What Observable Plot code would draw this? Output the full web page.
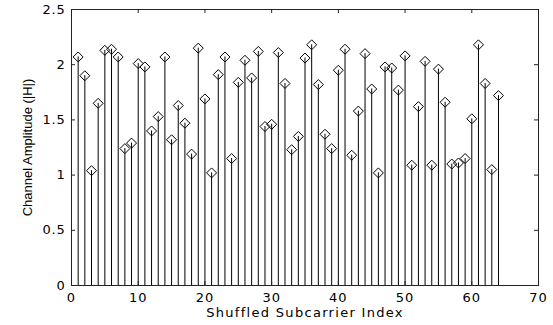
<!DOCTYPE html>
<html>
<head>
<meta charset="utf-8">
<script src="https://cdn.jsdelivr.net/npm/d3@7"></script>
<script src="https://cdn.jsdelivr.net/npm/@observablehq/plot@0.6"></script>
<style>
  html, body { margin: 0; padding: 0; background: white; }
  g[aria-label="x-axis tick label"] text { letter-spacing: 1px; }
  g[aria-label="y-axis tick label"] text { letter-spacing: 0.8px; }
</style>
</head>
<body>
<div id="chart"></div>
<script>
const subcarrierIndex = d3.range(1, 65);
const amplitude = [
  2.07, 1.90, 1.04, 1.65, 2.13, 2.14, 2.07, 1.24, 1.29, 2.01,
  1.98, 1.40, 1.53, 2.07, 1.32, 1.63, 1.47, 1.19, 2.15, 1.69,
  1.02, 1.91, 2.07, 1.15, 1.84, 2.04, 1.88, 2.12, 1.44, 1.46,
  2.11, 1.83, 1.23, 1.35, 2.06, 2.18, 1.82, 1.37, 1.24, 1.95,
  2.14, 1.18, 1.58, 2.10, 1.78, 1.02, 1.98, 1.97, 1.77, 2.08,
  1.09, 1.62, 2.03, 1.09, 1.96, 1.66, 1.10, 1.11, 1.15, 1.51,
  2.18, 1.83, 1.05, 1.72
];
const xTicks = [0, 10, 20, 30, 40, 50, 60, 70];
const yTicks = [0, 0.5, 1, 1.5, 2, 2.5];
const xLabel = "Shuffled Subcarrier Index";
const yLabel = "Channel Amplitude (|H|)";

const data = subcarrierIndex.map((x, i) => ({x, y: amplitude[i]}));

const W = 553, H = 325, mL = 71, mR = 15, mT = 9, mB = 40;
const innerW = W - mL - mR, innerH = H - mT - mB;
const tickLen = 4;

const diamond = {
  draw(context, size) {
    const r = Math.sqrt(size / Math.PI);
    context.moveTo(0, -r);
    context.lineTo(r, 0);
    context.lineTo(0, r);
    context.lineTo(-r, 0);
    context.closePath();
  }
};

const chart = Plot.plot({
  width: W,
  height: H,
  marginLeft: mL,
  marginRight: mR,
  marginTop: mT,
  marginBottom: mB,
  style: {fontFamily: "'DejaVu Sans', sans-serif", fontSize: "13px", background: "white", color: "black"},
  x: {domain: [0, 70]},
  y: {domain: [0, 2.5]},
  marks: [
    Plot.ruleX(data, {x: "x", y1: 0, y2: "y", stroke: "black", strokeWidth: 1}),
    Plot.dot(data, {x: "x", y: "y", symbol: diamond, r: 5, stroke: "black", fill: "none", strokeWidth: 1}),
    Plot.frame({stroke: "#222", strokeWidth: 1}),
    Plot.tickX(xTicks, {x: d => d, insetTop: innerH - tickLen, stroke: "#222"}),
    Plot.tickX(xTicks, {x: d => d, insetBottom: innerH - tickLen, stroke: "#222"}),
    Plot.tickY(yTicks, {y: d => d, insetRight: innerW - tickLen, stroke: "#222"}),
    Plot.tickY(yTicks, {y: d => d, insetLeft: innerW - tickLen, stroke: "#222"}),
    Plot.axisX({ticks: xTicks, tickSize: 0, tickPadding: 7, label: null, tickFormat: d => String(d)}),
    Plot.axisY({ticks: yTicks, tickSize: 0, tickPadding: 6, label: null, tickFormat: d => String(d)}),
    Plot.text([xLabel], {text: d => d, frameAnchor: "bottom", textAnchor: "middle", lineAnchor: "bottom", dy: 31.5, fontSize: 13, fill: "black"}),
    Plot.text([yLabel], {text: d => d, frameAnchor: "left", textAnchor: "middle", rotate: -90, lineAnchor: "bottom", dx: -40, fontSize: 13, fontFamily: "'Liberation Sans', Arial, sans-serif", fill: "black"})
  ]
});
document.getElementById("chart").appendChild(chart);
d3.select(chart).selectAll("text").filter(function() { return this.textContent === xLabel; })
  .attr("letter-spacing", "1.3px");
</script>
</body>
</html>
